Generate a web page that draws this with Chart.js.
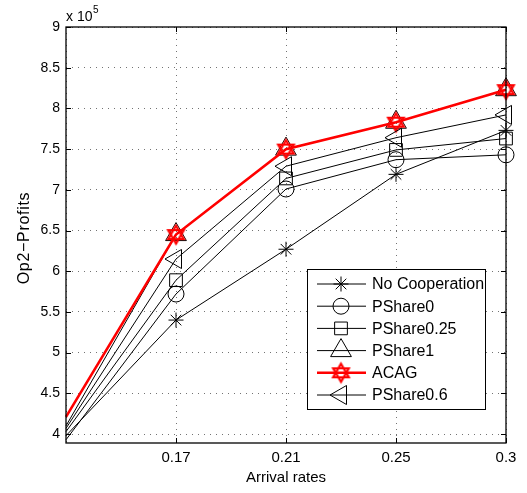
<!DOCTYPE html>
<html>
<head>
<meta charset="utf-8">
<script src="https://cdn.jsdelivr.net/npm/chart.js@4/dist/chart.umd.min.js"></script>
<style>
  html, body { margin: 0; padding: 0; background: #fff; }
  #wrap { width: 527px; height: 493px; }
</style>
</head>
<body>
<div id="wrap"><canvas id="c" width="527" height="493"></canvas></div>
<script>
// ---- data (values in units of x 10^5); first entry = value where the line leaves the left edge ----
const categories = ['', '0.17', '0.21', '0.25', '0.3'];
const noCooperation = [3.98, 5.40, 6.27, 7.19, 7.73];
const pShare0      = [3.93, 5.72, 7.01, 7.37, 7.43];
const pShare025    = [4.03, 5.89, 7.14, 7.49, 7.63];
const pShare1      = [4.10, 6.45, 7.50, 7.83, 8.23];
const acag         = [4.21, 6.45, 7.50, 7.83, 8.23];
const pShare06     = [4.07, 6.15, 7.29, 7.64, 7.92];
const yTicks = [4, 4.5, 5, 5.5, 6, 6.5, 7, 7.5, 8, 8.5, 9];
const yMin = 3.89, yMax = 9;

const FONT = "'Liberation Sans', Arial, Helvetica, sans-serif";

function hexagramCanvas(r, color, lw) {
  const s = Math.ceil(2 * r + lw * 2 + 2);
  const cv = document.createElement('canvas');
  cv.width = s; cv.height = s;
  const g = cv.getContext('2d');
  const c = s / 2;
  g.strokeStyle = color; g.lineWidth = lw; g.lineJoin = 'miter';
  [[-90, 30, 150], [90, 210, 330]].forEach(angs => {
    g.beginPath();
    angs.forEach((a, i) => {
      const t = a * Math.PI / 180;
      const px = c + r * Math.cos(t), py = c + r * Math.sin(t);
      if (i === 0) g.moveTo(px, py); else g.lineTo(px, py);
    });
    g.closePath();
    g.stroke();
  });
  return cv;
}
const hexImg = hexagramCanvas(9, '#ff0000', 2.2);

// no marker at the clipped left-edge entry
const radii = r => categories.map((c, i) => (i === 0 ? 0 : r));

function blackSeries(label, data, style, radius, order, rot) {
  return {
    label, data, order,
    borderColor: '#000', borderWidth: 1,
    pointStyle: style, pointRadius: radii(radius), pointHoverRadius: radii(radius),
    pointRotation: rot || 0,
    pointBorderColor: '#000', pointBackgroundColor: 'rgba(0,0,0,0)',
    pointBorderWidth: 1, tension: 0, fill: false
  };
}

const datasets = [
  blackSeries('No Cooperation', noCooperation, 'star', 7.5, 6),
  blackSeries('PShare0', pShare0, 'circle', 8, 5),
  blackSeries('PShare0.25', pShare025, 'rect', 9, 4),
  blackSeries('PShare1', pShare1, 'triangle', 12, 3),
  {
    label: 'ACAG', data: acag, order: 2,
    borderColor: '#ff0000', borderWidth: 2.6,
    pointStyle: hexImg, pointRadius: radii(10), pointHoverRadius: radii(10),
    tension: 0, fill: false
  },
  blackSeries('PShare0.6', pShare06, 'triangle', 11, 1, -90)
];

function drawMarker(g, style, x, y, r, rot) {
  g.save();
  g.translate(x, y);
  g.rotate((rot || 0) * Math.PI / 180);
  g.strokeStyle = '#000'; g.lineWidth = 1;
  g.beginPath();
  if (style === 'circle') {
    g.arc(0, 0, r, 0, Math.PI * 2);
  } else if (style === 'rect') {
    const s = r * Math.SQRT1_2;
    g.rect(-s, -s, 2 * s, 2 * s);
  } else if (style === 'triangle') {
    for (let i = 0; i < 3; i++) {
      const t = (-90 + i * 120) * Math.PI / 180;
      const px = r * Math.cos(t), py = r * Math.sin(t);
      if (i === 0) g.moveTo(px, py); else g.lineTo(px, py);
    }
    g.closePath();
  } else if (style === 'star') {
    for (let i = 0; i < 4; i++) {
      const t = i * Math.PI / 4;
      g.moveTo(-r * Math.cos(t), -r * Math.sin(t));
      g.lineTo(r * Math.cos(t), r * Math.sin(t));
    }
  }
  g.stroke();
  g.restore();
}

const framePlugin = {
  id: 'frame',
  afterDraw(chart) {
    const g = chart.ctx;
    const a = chart.chartArea;
    const xs = chart.scales.x, ys = chart.scales.y;
    g.save();
    // box
    g.strokeStyle = '#000'; g.lineWidth = 1.3;
    g.strokeRect(a.left, a.top, a.right - a.left, a.bottom - a.top);
    // inward ticks
    g.lineWidth = 1;
    g.beginPath();
    for (let i = 1; i < categories.length; i++) {
      const px = Math.round(xs.getPixelForValue(i)) + 0.5;
      g.moveTo(px, a.bottom); g.lineTo(px, a.bottom - 5);
      g.moveTo(px, a.top); g.lineTo(px, a.top + 5);
    }
    yTicks.forEach(v => {
      const py = Math.round(ys.getPixelForValue(v)) + 0.5;
      g.moveTo(a.left, py); g.lineTo(a.left + 5, py);
      g.moveTo(a.right, py); g.lineTo(a.right - 5, py);
    });
    g.stroke();

    // axis titles
    g.fillStyle = '#000';
    g.font = '15px ' + FONT;
    g.textAlign = 'center'; g.textBaseline = 'middle';
    g.fillText('Arrival rates', (a.left + a.right) / 2, 478);
    g.save();
    g.translate(25, 238);
    g.rotate(-Math.PI / 2);
    g.font = '16px ' + FONT;
    if ('letterSpacing' in g) g.letterSpacing = '0.7px';
    g.fillText('Op2\u2212Profits', 0, 0);
    g.restore();

    // exponent label
    g.textAlign = 'left'; g.textBaseline = 'alphabetic';
    g.font = '14px ' + FONT;
    g.fillText('x 10', a.left, 21);
    const w = g.measureText('x 10').width;
    g.font = '10px ' + FONT;
    g.fillText('5', a.left + w + 0.5, 13);

    // legend
    const L = 307, T = 269, R = 485, B = 409;
    g.fillStyle = '#fff';
    g.fillRect(L, T, R - L, B - T);
    g.strokeStyle = '#000'; g.lineWidth = 1;
    g.strokeRect(L + 0.5, T + 0.5, R - L, B - T);
    const rowY0 = 284, rowStep = 22.2;
    const legendItems = [
      ['star', 7.5, 0], ['circle', 8, 0], ['rect', 9, 0],
      ['triangle', 12, 0], ['hex', 10, 0], ['triangle', 11, -90]
    ];
    datasets.forEach((ds, i) => {
      const y = rowY0 + i * rowStep;
      const [st, r, rot] = legendItems[i];
      g.beginPath();
      g.strokeStyle = ds.borderColor; g.lineWidth = ds.borderWidth;
      g.moveTo(317, y); g.lineTo(366, y);
      g.stroke();
      if (st === 'hex') {
        g.drawImage(hexImg, 341 - hexImg.width / 2, y - hexImg.height / 2);
      } else {
        drawMarker(g, st, 341, y, r, rot);
      }
      g.fillStyle = '#000';
      g.font = '16px ' + FONT;
      g.textAlign = 'left'; g.textBaseline = 'middle';
      g.fillText(ds.label, 372, y + 1);
    });
    g.restore();
  }
};

new Chart(document.getElementById('c'), {
  type: 'line',
  data: { labels: categories, datasets },
  options: {
    responsive: false,
    animation: false,
    devicePixelRatio: 1,
    layout: { padding: { top: 27, right: 21, left: 0, bottom: 0 } },
    plugins: { legend: { display: false }, tooltip: { enabled: false } },
    scales: {
      x: {
        type: 'category',
        offset: false,
        grid: { color: 'rgba(0,0,0,0.55)', lineWidth: 1, drawTicks: false },
        border: { display: false, dash: [1, 5] },
        ticks: {
          color: '#000', font: { family: FONT, size: 15 }, padding: 6,
          maxRotation: 0, autoSkip: false
        },
        afterFit(s) { s.height = 50; }
      },
      y: {
        type: 'linear', min: yMin, max: yMax,
        grid: { color: 'rgba(0,0,0,0.55)', lineWidth: 1, drawTicks: false },
        border: { display: false, dash: [1, 5] },
        afterBuildTicks(s) { s.ticks = yTicks.map(v => ({ value: v })); },
        ticks: {
          color: '#000', font: { family: FONT, size: 14 }, padding: 6,
          callback: v => String(v)
        },
        afterFit(s) { s.width = 66; }
      }
    }
  },
  plugins: [framePlugin]
});
</script>
</body>
</html>
